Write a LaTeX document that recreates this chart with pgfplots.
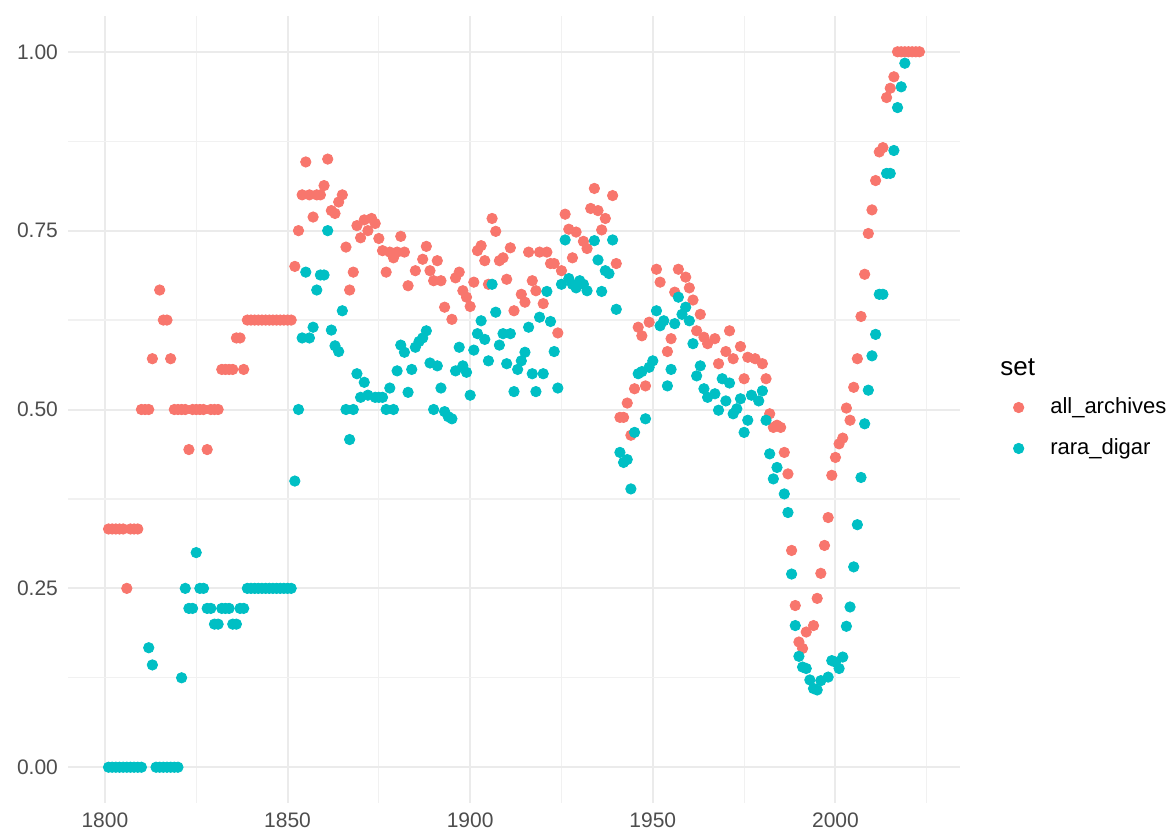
\documentclass[border=0pt]{standalone}
\usepackage{fontspec}
\setmainfont{Liberation Sans}
\usepackage{pgfplots}
\pgfplotsset{compat=1.18}
\usepackage{pgfplotstable}
\definecolor{redc}{HTML}{F8766D}
\definecolor{tealc}{HTML}{00BFC4}
\definecolor{gridmaj}{HTML}{EBEBEB}
\definecolor{gridmin}{HTML}{F1F1F1}
\definecolor{ticklab}{HTML}{4D4D4D}

\pgfplotstableread{
year value
1801 0.333
1802 0.333
1803 0.333
1804 0.333
1805 0.333
1806 0.25
1807 0.333
1808 0.333
1809 0.333
1810 0.5
1811 0.5
1812 0.5
1813 0.571
1815 0.667
1816 0.625
1817 0.625
1818 0.571
1819 0.5
1820 0.5
1821 0.5
1822 0.5
1823 0.444
1824 0.5
1825 0.5
1826 0.5
1827 0.5
1828 0.444
1829 0.5
1830 0.5
1831 0.5
1832 0.556
1833 0.556
1834 0.556
1835 0.556
1836 0.6
1837 0.6
1838 0.556
1839 0.625
1840 0.625
1841 0.625
1842 0.625
1843 0.625
1844 0.625
1845 0.625
1846 0.625
1847 0.625
1848 0.625
1849 0.625
1850 0.625
1851 0.625
1852 0.7
1853 0.75
1854 0.8
1855 0.846
1856 0.8
1857 0.769
1858 0.8
1859 0.8
1860 0.813
1861 0.85
1862 0.778
1863 0.774
1864 0.79
1865 0.8
1866 0.727
1867 0.667
1868 0.692
1869 0.757
1870 0.74
1871 0.765
1872 0.75
1873 0.767
1874 0.76
1875 0.739
1876 0.722
1877 0.692
1878 0.72
1879 0.712
1880 0.72
1881 0.742
1882 0.72
1883 0.673
1885 0.694
1887 0.71
1888 0.728
1889 0.694
1890 0.68
1891 0.708
1892 0.68
1893 0.643
1895 0.626
1896 0.684
1897 0.692
1898 0.666
1899 0.657
1900 0.644
1901 0.678
1902 0.722
1903 0.729
1904 0.708
1905 0.675
1906 0.767
1907 0.749
1908 0.708
1909 0.712
1910 0.682
1911 0.726
1912 0.638
1914 0.661
1915 0.65
1916 0.72
1917 0.68
1918 0.666
1919 0.72
1920 0.648
1921 0.72
1922 0.704
1923 0.704
1924 0.607
1925 0.694
1926 0.773
1927 0.752
1928 0.712
1929 0.748
1931 0.735
1932 0.725
1933 0.781
1934 0.809
1935 0.778
1936 0.751
1937 0.767
1939 0.799
1940 0.704
1941 0.489
1942 0.489
1943 0.509
1944 0.464
1945 0.529
1946 0.615
1947 0.603
1948 0.533
1949 0.622
1951 0.696
1952 0.678
1954 0.581
1955 0.599
1956 0.664
1957 0.696
1959 0.685
1960 0.67
1961 0.653
1962 0.61
1963 0.633
1964 0.601
1965 0.592
1967 0.599
1968 0.564
1970 0.581
1971 0.61
1972 0.571
1974 0.588
1975 0.543
1976 0.573
1978 0.571
1980 0.564
1981 0.543
1982 0.494
1983 0.475
1984 0.478
1985 0.475
1986 0.44
1987 0.41
1988 0.303
1989 0.226
1990 0.175
1991 0.166
1992 0.189
1994 0.198
1995 0.236
1996 0.271
1997 0.31
1998 0.349
1999 0.408
2000 0.433
2001 0.452
2002 0.46
2003 0.502
2004 0.485
2005 0.531
2006 0.571
2007 0.63
2008 0.689
2009 0.746
2010 0.779
2011 0.82
2012 0.86
2013 0.866
2014 0.936
2015 0.949
2016 0.965
2017 1.0
2018 1.0
2019 1.0
2020 1.0
2021 1.0
2022 1.0
2023 1.0
}\allarch

\pgfplotstableread{
year value
1801 0
1802 0
1803 0
1804 0
1805 0
1806 0
1807 0
1808 0
1809 0
1810 0
1812 0.167
1813 0.143
1814 0
1815 0
1816 0
1817 0
1818 0
1819 0
1820 0
1821 0.125
1822 0.25
1823 0.222
1824 0.222
1825 0.3
1826 0.25
1827 0.25
1828 0.222
1829 0.222
1830 0.2
1831 0.2
1832 0.222
1833 0.222
1834 0.222
1835 0.2
1836 0.2
1837 0.222
1838 0.222
1839 0.25
1840 0.25
1841 0.25
1842 0.25
1843 0.25
1844 0.25
1845 0.25
1846 0.25
1847 0.25
1848 0.25
1849 0.25
1850 0.25
1851 0.25
1852 0.4
1853 0.5
1854 0.6
1855 0.692
1856 0.6
1857 0.615
1858 0.667
1859 0.688
1860 0.688
1861 0.75
1862 0.611
1863 0.589
1864 0.581
1865 0.638
1866 0.5
1867 0.458
1868 0.5
1869 0.55
1870 0.517
1871 0.538
1872 0.52
1874 0.517
1875 0.517
1876 0.517
1877 0.5
1878 0.53
1879 0.5
1880 0.554
1881 0.59
1882 0.58
1883 0.524
1884 0.556
1885 0.587
1886 0.595
1887 0.6
1888 0.61
1889 0.565
1890 0.5
1891 0.561
1892 0.53
1893 0.497
1894 0.49
1895 0.487
1896 0.554
1897 0.587
1898 0.561
1899 0.552
1900 0.52
1901 0.583
1902 0.606
1903 0.624
1904 0.598
1905 0.568
1906 0.675
1907 0.636
1908 0.59
1909 0.606
1910 0.564
1911 0.606
1912 0.525
1913 0.556
1914 0.568
1915 0.58
1916 0.615
1917 0.55
1918 0.525
1919 0.629
1920 0.55
1921 0.665
1922 0.623
1923 0.581
1924 0.53
1925 0.675
1926 0.737
1927 0.683
1928 0.675
1929 0.67
1930 0.68
1931 0.675
1932 0.666
1934 0.736
1935 0.709
1936 0.665
1937 0.694
1938 0.69
1939 0.737
1940 0.64
1941 0.44
1942 0.426
1943 0.43
1944 0.389
1945 0.468
1946 0.55
1947 0.553
1948 0.487
1949 0.559
1950 0.568
1951 0.638
1952 0.617
1953 0.624
1954 0.533
1955 0.556
1956 0.62
1957 0.657
1958 0.633
1959 0.643
1960 0.624
1961 0.592
1962 0.547
1963 0.561
1964 0.529
1965 0.517
1967 0.522
1968 0.499
1969 0.543
1970 0.512
1971 0.537
1972 0.494
1973 0.501
1974 0.515
1975 0.468
1976 0.485
1977 0.52
1979 0.512
1980 0.526
1981 0.485
1982 0.438
1983 0.403
1984 0.419
1986 0.382
1987 0.356
1988 0.27
1989 0.198
1990 0.155
1991 0.14
1992 0.138
1993 0.122
1994 0.11
1995 0.108
1996 0.121
1998 0.126
1999 0.149
2000 0.147
2001 0.138
2002 0.154
2003 0.197
2004 0.224
2005 0.28
2006 0.339
2007 0.405
2008 0.48
2009 0.527
2010 0.575
2011 0.605
2012 0.661
2013 0.661
2014 0.83
2015 0.83
2016 0.862
2017 0.922
2018 0.951
2019 0.984
}\raradigar

\begin{document}
\begin{tikzpicture}
\begin{axis}[
  name=main,
  scale only axis, width=446pt, height=393.5pt,
  xmin=1789.9, xmax=2034.1, ymin=-0.05, ymax=1.05,
  axis line style={draw=none},
  tick style={draw=none},
  major tick length=0pt, minor tick length=0pt,
  xtick={1800,1850,1900,1950,2000},
  xticklabels={1800,1850,1900,1950,2000},
  minor xtick={1825,1875,1925,1975,2025},
  ytick={0,0.25,0.5,0.75,1},
  yticklabels={0.00,0.25,0.50,0.75,1.00},
  minor ytick={0.125,0.375,0.625,0.875},
  grid=both,
  major grid style={gridmaj, line width=1pt},
  minor grid style={gridmin, line width=0.6pt},
  tick label style={font=\fontsize{10.5}{12}\selectfont, text=ticklab},
  yticklabel style={xshift=-1.5pt},
  xticklabel style={yshift=-1.5pt},
  legend image code/.code={\draw[#1] plot coordinates {(0pt,0pt)};},
  legend style={at={(axis description cs:1.0595,0.4765)}, anchor=west,
    draw=none, fill=none, font=\fontsize{11}{13}\selectfont,
    row sep=7pt, inner sep=0pt,
    /tikz/every odd column/.append style={column sep=11.2pt}},
  legend cell align=left,
]
\addplot[only marks, mark=*, color=redc, mark size=2.6pt,
  mark options={draw=redc, fill=redc, line width=0.4pt}]
  table[x=year, y=value]{\allarch};
\addlegendentry{all\_archives}
\addplot[only marks, mark=*, color=tealc, mark size=2.6pt,
  mark options={draw=tealc, fill=tealc, line width=0.4pt}]
  table[x=year, y=value]{\raradigar};
\addlegendentry{rara\_digar}
\end{axis}
\node[anchor=west, inner sep=0pt, font=\fontsize{13}{15}\selectfont]
  at ([xshift=20pt, yshift=218pt]main.south east) {set};
\pgfresetboundingbox
\path[use as bounding box] ([xshift=-34pt, yshift=-14.5pt]main.south west)
  rectangle ([xshift=104pt, yshift=8pt]main.north east);
\end{tikzpicture}
\end{document}
